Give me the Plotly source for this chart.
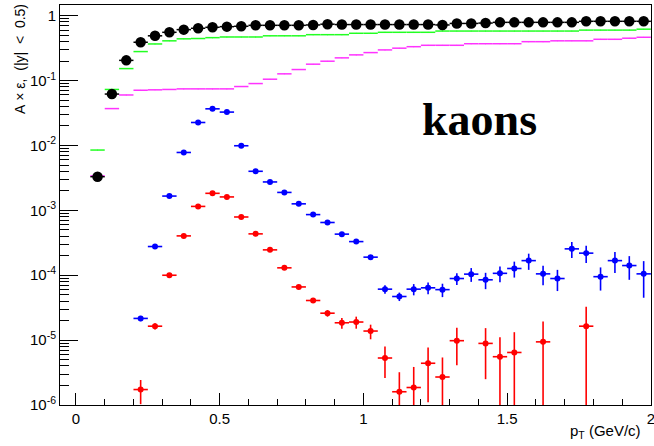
import plotly.graph_objects as go

# pT bin centres (GeV/c), bin width 0.05
pt = [0.075, 0.125, 0.175, 0.225, 0.275, 0.325, 0.375, 0.425, 0.475, 0.525,
      0.575, 0.625, 0.675, 0.725, 0.775, 0.825, 0.875, 0.925, 0.975, 1.025,
      1.075, 1.125, 1.175, 1.225, 1.275, 1.325, 1.375, 1.425, 1.475, 1.525,
      1.575, 1.625, 1.675, 1.725, 1.775, 1.825, 1.875, 1.925, 1.975]
half_bin = 0.025

# total acceptance x efficiency (black)
acc_total = [0.0033, 0.062, 0.205, 0.39, 0.49, 0.555, 0.61, 0.64, 0.663, 0.678,
             0.687, 0.711, 0.711, 0.711, 0.711, 0.72, 0.74, 0.73, 0.73, 0.73,
             0.73, 0.73, 0.73, 0.73, 0.72, 0.76, 0.76, 0.77, 0.79, 0.79,
             0.79, 0.79, 0.79, 0.79, 0.82, 0.82, 0.82, 0.82, 0.82]

# green component
acc_green = [0.0085, 0.073, 0.153, 0.28, 0.367, 0.41, 0.44, 0.445, 0.459, 0.47,
             0.47, 0.47, 0.49, 0.49, 0.49, 0.51, 0.51, 0.51, 0.536, 0.536,
             0.555, 0.555, 0.555, 0.555, 0.58, 0.58, 0.58, 0.58, 0.58, 0.58,
             0.58, 0.58, 0.58, 0.58, 0.60, 0.60, 0.60, 0.60, 0.62]

# magenta component
acc_magenta = [0.0034, 0.037, 0.060, 0.071, 0.072, 0.073, 0.0745, 0.0745, 0.0745, 0.0745,
               0.081, 0.090, 0.105, 0.127, 0.148, 0.179, 0.199, 0.224, 0.249, 0.27,
               0.297, 0.316, 0.333, 0.35, 0.35, 0.35, 0.37, 0.37, 0.37, 0.37,
               0.398, 0.398, 0.41, 0.41, 0.41, 0.433, 0.433, 0.45, 0.465]

# blue component and its uncertainty
acc_blue = [None, None, None, 2.16e-5, 2.77e-4, 1.66e-3, 7.8e-3, 0.0226, 0.0367, 0.0327,
            0.0099, 0.0040, 0.00274, 0.00189, 0.00126, 8.6e-4, 6.5e-4, 4.3e-4, 3.3e-4, 1.9e-4,
            6.1e-5, 4.7e-5, 6.1e-5, 6.4e-5, 6.0e-5, 8.9e-5, 1.04e-4, 8.5e-5, 1.07e-4, 1.27e-4,
            1.68e-4, 1.05e-4, 8.9e-5, 2.55e-4, 2.19e-4, 9.5e-5, 1.68e-4, 1.41e-4, 1.05e-4]
err_blue = [0, 0, 0, 2e-6, 1.2e-5, 5e-5, 2e-4, 5e-4, 8e-4, 7e-4,
            2.5e-4, 1.2e-4, 8e-5, 6e-5, 4e-5, 3e-5, 2.5e-5, 1.8e-5, 1.5e-5, 1.0e-5,
            0.9e-5, 0.7e-5, 1.2e-5, 1.3e-5, 1.4e-5, 1.8e-5, 2.5e-5, 2.4e-5, 2.9e-5, 3.5e-5,
            4.7e-5, 3.5e-5, 3.2e-5, 7.1e-5, 6.5e-5, 3.7e-5, 6.0e-5, 5.6e-5, 6.0e-5]

# red component and its uncertainty
acc_red = [None, None, None, 1.73e-6, 1.64e-5, 1.0e-4, 4.04e-4, 1.15e-3, 1.83e-3, 1.61e-3,
           7.9e-4, 4.34e-4, 2.46e-4, 1.30e-4, 6.6e-5, 4.08e-5, 2.6e-5, 1.85e-5, 1.9e-5, 1.38e-5,
           5.3e-6, 1.6e-6, 1.86e-6, 4.4e-6, 2.7e-6, 9.8e-6, None, 8.9e-6, 5.55e-6, 6.45e-6,
           None, 9.4e-6, None, None, 1.64e-5, None, None, None, None]
err_red = [0, 0, 0, 0.7e-6, 1.8e-6, 4e-6, 1.2e-5, 3e-5, 5e-5, 4e-5,
           2e-5, 1.2e-5, 8e-6, 5e-6, 3e-6, 2.5e-6, 3e-6, 3.5e-6, 4e-6, 3.5e-6,
           2.7e-6, 1.6e-6, 2.0e-6, 3.3e-6, 2.7e-6, 5.7e-6, 0, 6.4e-6, 5.5e-6, 6.8e-6,
           0, 1.0e-5, 0, 0, 1.63e-5, 0, 0, 0, 0]

y_decades = [1e-6, 1e-5, 1e-4, 1e-3, 1e-2, 1e-1, 1]
y_decade_labels = ["10<sup>-6</sup>", "10<sup>-5</sup>", "10<sup>-4</sup>", "10<sup>-3</sup>",
                   "10<sup>-2</sup>", "10<sup>-1</sup>", "1"]
x_tick_vals = [0, 0.5, 1, 1.5, 2]
x_tick_labels = ["0", "0.5", "1", "1.5", "2"]

NB = "\u00a0"
y_title = f"A{NB}\u00d7{NB}\u03b5,{NB}{NB}(|y|{NB}{NB}&lt;{NB}{NB}0.5)"


def lower_err(vals, errs):
    # keep the lower end of the bar positive on the log scale
    out = []
    for v, e in zip(vals, errs):
        if v is None:
            out.append(0)
        else:
            out.append(min(e, v * 0.999))
    return out


fig = go.Figure()

# step-like components drawn as bin-wide horizontal bars
for vals, col in [(acc_magenta, "#ff33ff"), (acc_green, "#22ff22")]:
    fig.add_trace(go.Scatter(
        x=pt, y=vals, mode="markers",
        marker=dict(size=1, color=col),
        error_x=dict(type="constant", value=half_bin, color=col, thickness=1.5, width=0),
        showlegend=False, hoverinfo="skip"))

for vals, errs, col in [(acc_blue, err_blue, "#0000ff"), (acc_red, err_red, "#ff0000")]:
    fig.add_trace(go.Scatter(
        x=pt, y=vals, mode="markers",
        marker=dict(size=6, color=col),
        error_x=dict(type="constant", value=half_bin, color=col, thickness=1.6, width=0),
        error_y=dict(type="data", array=errs, arrayminus=lower_err(vals, errs),
                     symmetric=False, color=col, thickness=1.6, width=0),
        showlegend=False))

fig.add_trace(go.Scatter(
    x=pt, y=acc_total, mode="markers",
    marker=dict(size=10.5, color="#000000"),
    error_x=dict(type="constant", value=half_bin, color="#000000", thickness=1.5, width=0),
    showlegend=False))

minor_y = [m * 10 ** e for e in range(-6, 1) for m in range(2, 10)]

fig.update_layout(
    width=654, height=446,
    margin=dict(l=60, r=3, t=5, b=41, autoexpand=False),
    paper_bgcolor="white", plot_bgcolor="white",
    font=dict(family="Liberation Sans, Arial, sans-serif", size=15, color="#000000"),
    xaxis=dict(
        range=[-0.0556, 2.0005], showgrid=False, zeroline=False, automargin=False,
        showline=True, mirror=True, linecolor="#000000", linewidth=1,
        ticks="inside", ticklen=12, tickcolor="#000000", tickwidth=1,
        tickvals=x_tick_vals, ticktext=x_tick_labels,
        tickfont=dict(size=15), ticklabeloverflow="allow",
        minor=dict(ticks="inside", ticklen=6, dtick=0.1, tick0=0,
                   tickcolor="#000000", showgrid=False),
    ),
    yaxis=dict(
        type="log", range=[-6, 0.165], showgrid=False, zeroline=False, automargin=False,
        showline=True, mirror=True, linecolor="#000000", linewidth=1,
        ticks="inside", ticklen=18, tickcolor="#000000", tickwidth=1,
        tickvals=y_decades, ticktext=y_decade_labels,
        tickfont=dict(size=15),
        minor=dict(ticks="inside", ticklen=9, tickvals=minor_y,
                   tickcolor="#000000", showgrid=False),
    ),
    annotations=[
        dict(text=y_title, textangle=-90,
             xref="paper", yref="paper", x=-0.0677, y=1.0075,
             xanchor="center", yanchor="top", showarrow=False,
             font=dict(size=14)),
        dict(text="p<sub>T</sub> (GeV/c)",
             xref="paper", yref="paper", x=0.987, y=-0.065,
             xanchor="right", yanchor="middle", showarrow=False,
             font=dict(size=15)),
        dict(text="<b>kaons</b>",
             xref="paper", yref="paper", x=0.71, y=0.7125,
             xanchor="center", yanchor="middle", showarrow=False,
             font=dict(family="Liberation Serif, Times New Roman, serif", size=46,
                       color="#000000")),
    ],
)

fig.write_html("out.html")
